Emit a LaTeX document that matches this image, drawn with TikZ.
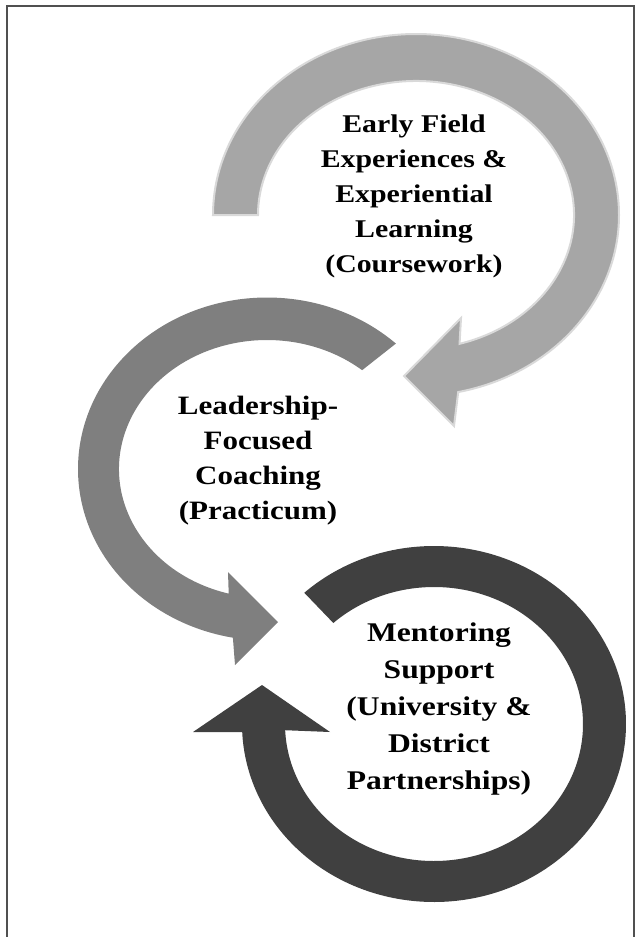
\documentclass[tikz,border=0pt]{standalone}
\usepackage{fontspec}
\setmainfont{Liberation Serif}[FakeStretch=1.17]
\usetikzlibrary{calc}
\definecolor{arrowA}{HTML}{A6A6A6}
\definecolor{arrowAline}{HTML}{D9D9D9}
\definecolor{arrowB}{HTML}{7F7F7F}
\definecolor{arrowC}{HTML}{404040}
\definecolor{framecol}{HTML}{505050}
\tikzset{
  lbl/.style={align=center, anchor=base, inner sep=0pt, text=black},
}
\begin{document}
\begin{tikzpicture}[x=1pt,y=1pt]
\useasboundingbox (0,0) rectangle (641,-937);
\clip (0,0) rectangle (641,-937);
\draw[line width=2, color=framecol] (7,-5.5) rectangle (634,-950);

\coordinate (c1) at (416,-215);
\coordinate (c2) at (267,-469);
\coordinate (c3) at (434,-724);

% Arrow 1 (light)
\filldraw[fill=arrowA, draw=arrowAline, line width=2, line join=miter]
  ($(c1)+(180:203 and 181)$) arc[start angle=180, end angle=-78, x radius=203, y radius=181]
  -- (454,-426) -- (404,-376) -- (461,-318)
  -- ($(c1)+(-74:158 and 134)$) arc[start angle=-74, end angle=180, x radius=158, y radius=134]
  -- cycle;

% Arrow 2 (mid)
\fill[arrowB]
  ($(c2)+(47:189 and 171.5)$) arc[start angle=47, end angle=259.6, x radius=189, y radius=171.5]
  -- (235,-665) -- (278,-622) -- (228,-572)
  -- ($(c2)+(255:148 and 129)$) arc[start angle=255, end angle=50, x radius=148, y radius=129]
  -- cycle;

% Arrow 3 (dark)
\fill[arrowC]
  ($(c3)+(132.5:192 and 178)$) arc[start angle=132.5, end angle=-177.4, x radius=192, y radius=178]
  -- (193,-732) -- (262,-685) -- (330,-732)
  -- ($(c3)+(-177.4:149 and 137)$) arc[start angle=-177.4, end angle=132.5, x radius=149, y radius=137]
  -- cycle;

\node[lbl, font=\fontsize{25.5}{35}\selectfont\bfseries] (t1) at (414,-272)
  {Early Field\\Experiences \&\\Experiential\\Learning\\(Coursework)};
\node[lbl, font=\fontsize{26.5}{34.7}\selectfont\bfseries] (t2) at (258,-519)
  {Leadership-\\Focused\\Coaching\\(Practicum)};
\node[lbl, font=\fontsize{27}{37}\selectfont\bfseries] (t3) at (439,-789)
  {Mentoring\\Support\\(University \&\\District\\Partnerships)};
\end{tikzpicture}
\end{document}
